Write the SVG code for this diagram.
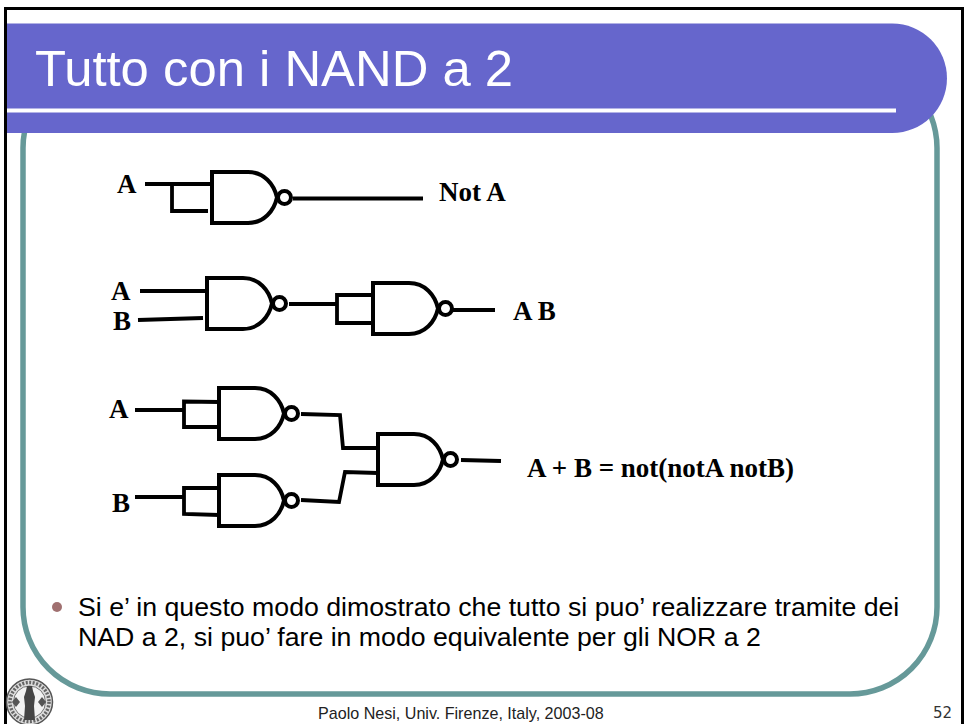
<svg xmlns="http://www.w3.org/2000/svg" xmlns:xlink="http://www.w3.org/1999/xlink" width="964" height="724" viewBox="0 0 964 724">
<style>
.w{fill:none;stroke:#000;stroke-width:3.8;stroke-linejoin:miter}
.g{fill:#fff;stroke:#000;stroke-width:4}
.l{font-family:"Liberation Serif","Times New Roman",serif;font-weight:bold;font-size:27px;fill:#000}
.b{font-family:"Liberation Sans",Arial,sans-serif;font-size:26.7px;fill:#000}
.s{stroke:#666;fill:none}
</style>
<defs>
<g id="nand">
<path class="g" d="M0 0H36C52 0 62 12 65 25.500C62 39 52 51 36 51H0Z"/>
<circle class="g" cx="72.500" cy="25.500" r="6.500"/>
</g>
</defs>
<rect width="964" height="724" fill="#fff"/>
<path id="frame" d="M5.500 724V8.500H962.500V724" fill="none" stroke="#000" stroke-width="3"/>
<rect id="panel" x="23" y="61" width="914" height="633" rx="87" ry="87" fill="none" stroke="#669999" stroke-width="5.500"/>
<g id="title-band">
<path d="M7 23.500H892.250A54.750 54.750 0 0 1 892.250 133H7Z" fill="#6666cc"/>
<rect x="7" y="108.500" width="889" height="4" fill="#fff"/>
<text x="35" y="86" font-family="Liberation Sans, Arial, sans-serif" font-size="50.800" fill="#fff">Tutto con i NAND a 2</text>
</g>
<g id="connectors">
<path class="w" d="M145 184H212M172 184V211H208M293 198.500H423"/>
<path class="w" d="M140 291H207M138 320L203 318M289 304H337M373 295H337V323H373M453 310H495"/>
<path class="w" d="M135 410H184M219 402L184 401.500V429M184 427H219M301 414L340 415L343 448H378"/>
<path class="w" d="M135 497H184M219 488H184V514L219 515M301 500L339 502L345 472L378 473M461 460L501 461"/>
</g>
<g id="gate-not"><use xlink:href="#nand" href="#nand" x="212" y="172"/></g>
<g id="gate-and-1"><use xlink:href="#nand" href="#nand" x="207" y="278"/></g>
<g id="gate-and-2"><use xlink:href="#nand" href="#nand" x="373" y="283"/></g>
<g id="gate-or-a"><use xlink:href="#nand" href="#nand" x="219" y="388"/></g>
<g id="gate-or-b"><use xlink:href="#nand" href="#nand" x="219" y="475"/></g>
<g id="gate-or-out"><use xlink:href="#nand" href="#nand" x="378" y="434"/></g>
<g id="labels">
<text class="l" x="117" y="193">A</text>
<text class="l" x="439" y="201">Not A</text>
<text class="l" x="111" y="300">A</text>
<text class="l" x="113" y="330">B</text>
<text class="l" x="513" y="320">A B</text>
<text class="l" x="109" y="418">A</text>
<text class="l" x="112" y="512">B</text>
<text class="l" x="527" y="477">A + B = not(notA notB)</text>
</g>
<g id="bullet">
<circle cx="57" cy="607" r="5" fill="#a07070"/>
<text class="b" x="78" y="616">Si e’ in questo modo dimostrato che tutto si puo’ realizzare tramite dei</text>
<text class="b" x="78" y="646">NAD a 2, si puo’ fare in modo equivalente per gli NOR a 2</text>
</g>
<g id="footer">
<text x="318" y="719" font-family="Liberation Sans, Arial, sans-serif" font-size="16.100" fill="#222">Paolo Nesi, Univ. Firenze, Italy, 2003-08</text>
<text x="933" y="718" font-family="DejaVu Sans, sans-serif" font-size="15" fill="#333">52</text>
</g>
<g id="logo">
<circle cx="29.500" cy="702" r="23" fill="#ddd" stroke="#555" stroke-width="1.500"/>
<circle class="s" cx="29.500" cy="702" r="19.500" stroke-width="3.500" stroke-dasharray="2 1.500"/>
<circle cx="29.500" cy="702" r="16" fill="#f2f2f2" stroke="#777"/>
<path d="M27 686h5l1 5 2 6-1 9 1 14h-11l1-14-1-9 2-6Z" fill="#444"/>
<path d="M16 697l4 5-4 5-4-5ZM42 697l4 5-4 5-4-5Z" fill="#555"/>
</g>
</svg>
